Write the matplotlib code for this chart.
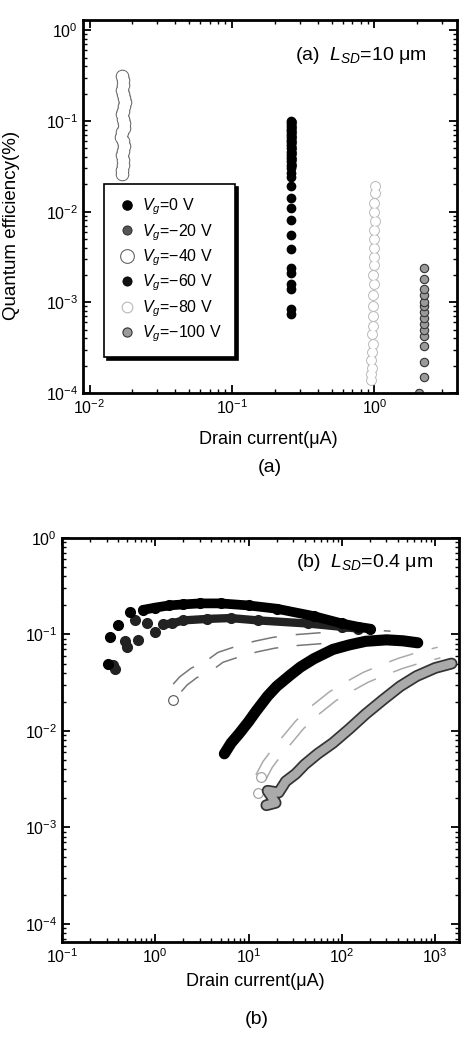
import matplotlib
matplotlib.use("Agg")
import matplotlib.pyplot as plt
import matplotlib.patheffects as pe

plt.rcParams['font.family'] = ['Liberation Sans', 'DejaVu Sans']
plt.rcParams['mathtext.fontset'] = 'custom'
plt.rcParams['mathtext.rm'] = 'Liberation Sans'
plt.rcParams['mathtext.it'] = 'Liberation Sans:italic'

# ---- panel (a): L_SD = 10 um ----
labels = [r'$V_g$=0 V', r'$V_g$=−20 V', r'$V_g$=−40 V',
          r'$V_g$=−60 V', r'$V_g$=−80 V', r'$V_g$=−100 V']

a0_y = [0.1, 0.094, 0.088, 0.082, 0.077, 0.072, 0.067, 0.062, 0.058, 0.054, 0.05, 0.046,
        0.042, 0.039, 0.036, 0.033, 0.03, 0.027, 0.024, 0.019, 0.014, 0.011, 0.008,
        0.0055, 0.0039, 0.0024, 0.0021, 0.0016, 0.0014, 0.00085, 0.00075]
a0_x = [0.26] * len(a0_y)
a20_y = [0.098, 0.085, 0.075, 0.066, 0.058, 0.05, 0.044, 0.038, 0.033]
a20_x = [0.265] * len(a20_y)
a40_y = [0.026, 0.029, 0.033, 0.037, 0.042, 0.047, 0.053, 0.06, 0.067, 0.075, 0.084, 0.094,
         0.105, 0.118, 0.13, 0.145, 0.16, 0.18, 0.2, 0.22, 0.25, 0.28, 0.31]
a40_x = [0.0168, 0.0170, 0.0172, 0.0171, 0.0169, 0.0173, 0.0175, 0.0171, 0.0167, 0.0170,
         0.0174, 0.0176, 0.0172, 0.0169, 0.0171, 0.0175, 0.0177, 0.0174, 0.0171, 0.0170,
         0.0172, 0.0171, 0.0170]
a60_y = [0.092, 0.08, 0.07, 0.061, 0.053, 0.046, 0.04, 0.035]
a60_x = [0.26] * len(a60_y)
a80_y = [0.00014, 0.00016, 0.00019, 0.00023, 0.00028, 0.00035, 0.00045, 0.00055, 0.0007,
         0.0009, 0.0012, 0.0016, 0.002, 0.0026, 0.0032, 0.004, 0.005, 0.0062, 0.0078,
         0.0098, 0.0125, 0.016, 0.019]
a80_x = [0.95, 0.95, 0.96, 0.95, 0.96, 0.97, 0.96, 0.97, 0.98, 0.97, 0.98, 0.99, 0.98,
         0.99, 1.0, 1.0, 0.99, 1.0, 1.01, 1.0, 1.0, 1.01, 1.01]
a100_y = [0.0001, 0.00015, 0.00022, 0.00033, 0.00043, 0.0005, 0.00058, 0.00068, 0.00078,
          0.0009, 0.001, 0.0012, 0.0014, 0.0018, 0.0024]
a100_x = [2.05, 2.22, 2.22, 2.24, 2.22, 2.22, 2.24, 2.23, 2.22, 2.23, 2.22, 2.24, 2.23,
          2.22, 2.24]

# ---- panel (b): L_SD = 0.4 um ----
b0_x = [0.31, 0.33, 0.40, 0.54, 0.74, 1.0, 1.4, 2.0, 3.0, 5.0, 10, 20, 50, 100, 150, 200]
b0_y = [0.05, 0.095, 0.125, 0.17, 0.18, 0.19, 0.2, 0.205, 0.21, 0.21, 0.2, 0.185, 0.155,
        0.13, 0.12, 0.115]
b20_x = [0.35, 0.37, 0.47, 0.50, 0.61, 0.66, 0.82, 1.0, 1.22, 1.5, 2.0, 3.6, 6.4, 12.5,
         43, 100, 150]
b20_y = [0.048, 0.044, 0.085, 0.075, 0.14, 0.088, 0.13, 0.105, 0.127, 0.13, 0.14, 0.145,
         0.148, 0.14, 0.13, 0.12, 0.115]
b40_x = [1.55, 1.72, 2.0, 2.6, 3.6, 5.0, 8.2, 12, 18.6, 30, 64, 120, 220, 330]
b40_y = [0.021, 0.028, 0.033, 0.04, 0.046, 0.058, 0.068, 0.075, 0.082, 0.087, 0.092,
         0.095, 0.097, 0.095]
b60_x = [5.5, 6.5, 8, 10, 12, 16, 20, 28, 36, 50, 80, 120, 180, 300, 450, 650]
b60_y = [0.0058, 0.0075, 0.0095, 0.0125, 0.016, 0.023, 0.029, 0.038, 0.046, 0.056, 0.07,
         0.078, 0.085, 0.088, 0.086, 0.082]
b80_x = [12.5, 13.5, 16, 20, 27, 35, 50, 80, 120, 180, 280, 420, 650, 1100]
b80_y = [0.0023, 0.0033, 0.0045, 0.006, 0.0085, 0.0115, 0.016, 0.023, 0.029, 0.036,
         0.043, 0.05, 0.057, 0.065]
b100_x = [15.5, 19.5, 16, 21, 25, 32, 40, 55, 80, 120, 180, 275, 420, 630, 1000, 1500]
b100_y = [0.0017, 0.0018, 0.0024, 0.0023, 0.003, 0.0036, 0.0045, 0.0058, 0.0075, 0.0105,
          0.015, 0.021, 0.029, 0.037, 0.045, 0.05]

fig = plt.figure(figsize=(4.61, 10.44), dpi=100)
axa = fig.add_axes([83 / 461, 1 - 393 / 1044, 374 / 461, 373 / 1044])
axb = fig.add_axes([62 / 461, 1 - 942 / 1044, 397 / 461, 404 / 1044])

# panel (a) markers
axa.plot(a20_x, a20_y, 'o', ms=6, mfc='#555', mec='#222', mew=0.6, label=labels[1])
axa.plot(a60_x, a60_y, 'o', ms=6, mfc='#111', mec='#000', mew=0.6, label=labels[3])
axa.plot(a0_x, a0_y, 'o', ms=6, mfc='black', mec='black', label=labels[0])
# open circles: edges first, then white fill on top so only the outline stays
axa.plot(a40_x, a40_y, 'o', ms=9, mfc='white', mec='#666', mew=0.8, label=labels[2])
axa.plot(a40_x, a40_y, 'o', ms=8.1, mfc='white', mec='none')
axa.plot(a80_x, a80_y, 'o', ms=7, mfc='white', mec='#b8b8b8', mew=0.8, label=labels[4])
axa.plot(a80_x, a80_y, 'o', ms=6.1, mfc='white', mec='none')
axa.plot(a100_x, a100_y, 'o', ms=6, mfc='#9a9a9a', mec='#333', mew=0.8, label=labels[5])

handles, labs = axa.get_legend_handles_labels()
order = [labs.index(l) for l in labels]
leg = axa.legend([handles[i] for i in order], [labs[i] for i in order],
                 loc='lower left', bbox_to_anchor=(0.035, 0.075), fontsize=11.5,
                 frameon=True, fancybox=False, shadow={'color': 'black', 'alpha': 1},
                 edgecolor='black', handletextpad=0.3, labelspacing=0.3,
                 borderpad=0.8, handlelength=1.3, markerscale=1.1)
leg.get_frame().set_linewidth(1.2)

axa.set_xscale('log')
axa.set_yscale('log')
axa.set_xlim(0.009, 3.8)
axa.set_ylim(1e-4, 1.3)
axa.set_ylabel('Quantum efficiency(%)', fontsize=13.5)
axa.yaxis.set_label_coords(-0.168, 0.45)
axa.text(0.92, 0.906, r'(a)  $L_{SD}$=10 μm', transform=axa.transAxes,
         ha='right', va='center', fontsize=14)

# panel (b) bands
def open_band(ax, x, y, edge):
    ax.plot(x, y, '--', color=edge, lw=9, dashes=(2, 1.5))
    ax.plot(x, y, '-', color='white', lw=6.8, solid_capstyle='round')

open_band(axb, b40_x[1:], b40_y[1:], '#777')
axb.plot(b40_x[:1], b40_y[:1], 'o', ms=7, mfc='white', mec='#555', mew=0.8)
open_band(axb, b80_x[1:], b80_y[1:], '#aaa')
axb.plot(b80_x[:2], b80_y[:2], 'o', ms=7, mfc='white', mec='#999', mew=0.8)

axb.plot(b20_x, b20_y, 'o', ms=7, color='#222')
axb.plot(b20_x[8:], b20_y[8:], '-', color='#222', lw=6, solid_capstyle='round')
axb.plot(b0_x, b0_y, 'o', ms=7, color='black')
axb.plot(b0_x[4:], b0_y[4:], '-', color='black', lw=7, solid_capstyle='round')

axb.plot(b60_x, b60_y, '-', color='black', lw=8, solid_capstyle='round')
axb.plot(b100_x, b100_y, '-', color='#aaa', lw=6, solid_capstyle='round',
         path_effects=[pe.Stroke(linewidth=8.5, foreground='#333'), pe.Normal()])

axb.set_xscale('log')
axb.set_yscale('log')
axb.set_xlim(0.1, 1800)
axb.set_ylim(6.5e-5, 1)
axb.text(0.934, 0.94, r'(b)  $L_{SD}$=0.4 μm', transform=axb.transAxes,
         ha='right', va='center', fontsize=14)

for ax in (axa, axb):
    ax.tick_params(which='both', direction='in', top=True, right=True, labelsize=11.5)
    ax.tick_params(which='major', length=6, width=1.3)
    ax.tick_params(which='minor', length=3, width=1)
    for s in ax.spines.values():
        s.set_linewidth(2)

fig.text(268 / 461, 1 - 440 / 1044, 'Drain current(μA)', ha='center', va='center', fontsize=13)
fig.text(270 / 461, 1 - 468 / 1044, '(a)', ha='center', va='center', fontsize=14)
fig.text(255 / 461, 1 - 982 / 1044, 'Drain current(μA)', ha='center', va='center', fontsize=13)
fig.text(257 / 461, 1 - 1020 / 1044, '(b)', ha='center', va='center', fontsize=14)

fig.savefig('out.png', dpi=100)
